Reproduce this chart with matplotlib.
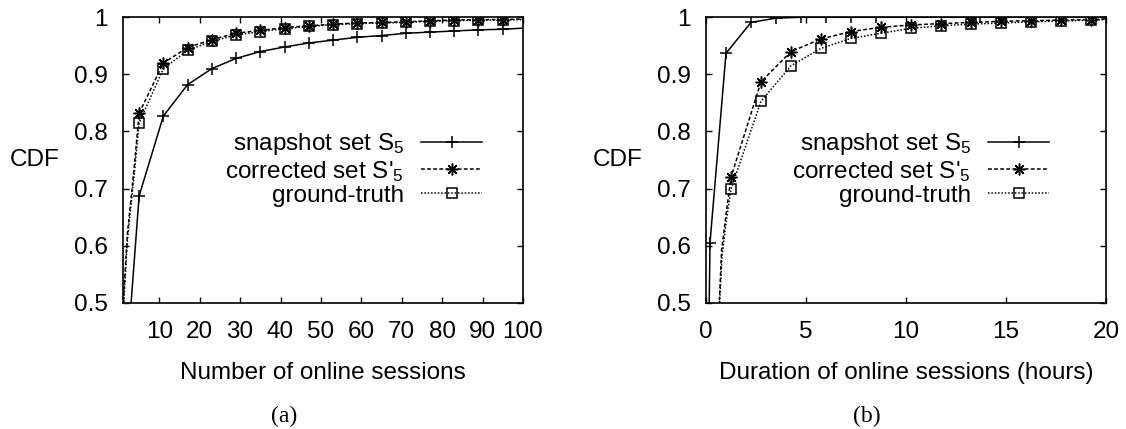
import matplotlib
matplotlib.use('Agg')
import matplotlib.pyplot as plt

plt.rcParams['font.family'] = ['Liberation Sans', 'DejaVu Sans']
plt.rcParams['font.size'] = 17.5
plt.rcParams['mathtext.fontset'] = 'custom'
plt.rcParams['mathtext.rm'] = 'Liberation Sans'
plt.rcParams['mathtext.it'] = 'Liberation Sans:italic'

# (a) number of online sessions per user
snap_a_x = [1, 5, 11, 17, 23, 29, 35, 41, 47, 53, 59, 65, 71, 77, 83, 89, 95, 100]
snap_a_y = [0.31, 0.687, 0.827, 0.882, 0.910, 0.928, 0.940, 0.948, 0.955, 0.960,
            0.965, 0.968, 0.972, 0.974, 0.976, 0.978, 0.979, 0.981]
corr_a_x = [1, 1.3, 2.1, 3.8, 5, 11, 17, 23, 29, 35, 41, 47, 53, 59, 65, 71, 77, 83, 89, 95, 100]
corr_a_y = [0.48, 0.527, 0.621, 0.738, 0.832, 0.920, 0.947, 0.961, 0.972, 0.977, 0.982,
            0.985, 0.988, 0.990, 0.991, 0.992, 0.994, 0.995, 0.996, 0.996, 0.997]
truth_a_x = [1, 1.2, 2.1, 3.8, 5, 11, 17, 23, 29, 35, 41, 47, 53, 59, 65, 71, 77, 83, 89, 95, 100]
truth_a_y = [0.46, 0.50, 0.61, 0.725, 0.815, 0.910, 0.942, 0.958, 0.969, 0.975, 0.980,
             0.984, 0.987, 0.989, 0.990, 0.991, 0.993, 0.994, 0.995, 0.995, 0.996]

# (b) duration of online sessions (hours)
snap_b_x = [0.05, 0.2, 1.0, 2.25, 3.5, 4.75, 6.0, 7.25, 8.5, 13.7, 20]
snap_b_y = [0.2, 0.605, 0.937, 0.991, 0.9985, 1.0, 1.0, 1.0, 1.0, 1.0, 1.0]
corr_b_x = [0.55, 0.67, 0.78, 1.03, 1.25, 2.75, 4.25, 5.75, 7.25, 8.75, 10.25,
            11.75, 13.25, 14.75, 16.25, 17.75, 19.25, 20]
corr_b_y = [0.44, 0.504, 0.592, 0.662, 0.720, 0.887, 0.940, 0.962, 0.975, 0.9825,
            0.9865, 0.989, 0.991, 0.993, 0.994, 0.995, 0.996, 0.997]
truth_b_x = [0.55, 0.68, 0.8, 1.0, 1.25, 2.75, 4.25, 5.75, 7.25, 8.75, 10.25,
             11.75, 13.25, 14.75, 16.25, 17.75, 19.25, 20]
truth_b_y = [0.43, 0.50, 0.58, 0.64, 0.699, 0.853, 0.915, 0.9456, 0.963, 0.972,
             0.9807, 0.985, 0.988, 0.990, 0.992, 0.9935, 0.995, 0.996]

labels = ['snapshot set S$_5$', "corrected set S'$_5$", 'ground-truth']
xlabels = ['Number of online sessions', 'Duration of online sessions (hours)']
captions = ['(a)', '(b)']
yticks = [0.5, 0.6, 0.7, 0.8, 0.9, 1.0]

fig = plt.figure(figsize=(11.26, 4.29), dpi=100)
ax_a = fig.add_axes([0.1092, 0.2944, 0.3552, 0.6653])
ax_b = fig.add_axes([0.6270, 0.2944, 0.3552, 0.6653])

panels = [
    (ax_a, (snap_a_x, snap_a_y, slice(1, -1)),
     (corr_a_x, corr_a_y, slice(4, -1)),
     (truth_a_x, truth_a_y, slice(4, -1)),
     (1, 100), list(range(10, 101, 10)), 0.8975),
    (ax_b, (snap_b_x, snap_b_y, slice(1, -1)),
     (corr_b_x, corr_b_y, slice(4, -1)),
     (truth_b_x, truth_b_y, slice(4, -1)),
     (0, 20), [0, 5, 10, 15, 20], 0.8575),
]

for i, (ax, snap, corr, truth, xlim, xticks, leg_x) in enumerate(panels):
    ax.plot(snap[0], snap[1], color='black', lw=1.1, ls='-',
            marker='+', ms=8, mew=1.1, markevery=snap[2], label=labels[0])
    ax.plot(corr[0], corr[1], color='black', lw=1.1, ls=(0, (2.5, 1.5)),
            marker=(8, 2, 0), ms=8.5, mew=1.1, markevery=corr[2], label=labels[1])
    ax.plot(truth[0], truth[1], color='black', lw=1.1, ls=(0, (1, 1.2)),
            marker='s', ms=7.5, mew=1.1, mfc='none', markevery=truth[2], label=labels[2])

    ax.set_xlim(*xlim)
    ax.set_ylim(0.5, 1.0)
    ax.set_xticks(xticks)
    ax.set_yticks(yticks)
    ax.set_yticklabels(['%g' % v for v in yticks])
    ax.tick_params(direction='in', top=True, right=True, length=4.5, width=1.0)
    ax.tick_params(axis='x', pad=13)
    ax.tick_params(axis='y', pad=11)
    for sp in ax.spines.values():
        sp.set_linewidth(1.2)

    ax.set_xlabel(xlabels[i], labelpad=14)
    ax.set_ylabel('CDF', rotation=0, ha='center', va='center')
    ax.yaxis.set_label_coords(-0.22, 0.5)

    ax.legend(loc='center right', bbox_to_anchor=(leg_x, 0.468), frameon=False,
              markerfirst=False, handlelength=2.5, handletextpad=0.7,
              labelspacing=0.05, borderpad=0, borderaxespad=0)

    ax.text(0.4025, -0.4, captions[i], transform=ax.transAxes,
            ha='center', va='center', fontsize=17, family='Liberation Serif')

fig.savefig('out.png', dpi=100)
